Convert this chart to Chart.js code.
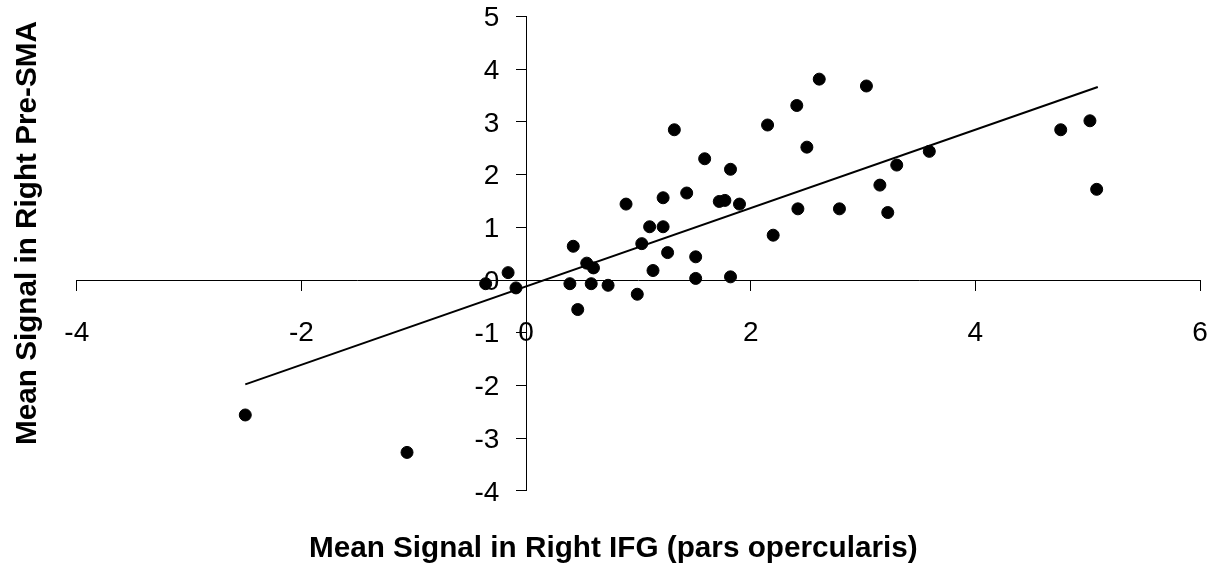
<!DOCTYPE html>
<html>
<head>
<meta charset="utf-8">
<script src="https://cdn.jsdelivr.net/npm/chart.js@4/dist/chart.umd.min.js"></script>
<style>
  html, body { margin: 0; padding: 0; background: #ffffff; }
  #wrap { width: 1229px; height: 573px; }
</style>
</head>
<body>
<div id="wrap"><canvas id="c" width="1229" height="573"></canvas></div>
<script>
// ---- data ----
const xValues = [-2.50, -1.06, -0.36, -0.16, -0.09, 0.39, 0.42, 0.46, 0.54, 0.60,
                 0.58, 0.73, 0.89, 0.99, 1.03, 1.10, 1.13, 1.22, 1.22, 1.26,
                 1.32, 1.43, 1.51, 1.51, 1.59, 1.72, 1.77, 1.82, 1.82, 1.90,
                 2.15, 2.20, 2.41, 2.42, 2.50, 2.61, 2.79, 3.03, 3.15, 3.22,
                 3.30, 3.59, 4.76, 5.02, 5.08];
const yValues = [-2.56, -3.27, -0.07, 0.14, -0.15, -0.07, 0.64, -0.56, 0.32, 0.23,
                 -0.07, -0.10, 1.44, -0.27, 0.69, 1.01, 0.18, 1.01, 1.56, 0.52,
                 2.85, 1.65, 0.44, 0.03, 2.30, 1.49, 1.51, 2.10, 0.06, 1.44,
                 2.94, 0.85, 3.31, 1.35, 2.52, 3.81, 1.35, 3.68, 1.80, 1.28,
                 2.18, 2.44, 2.85, 3.02, 1.72];
const trendX = [-2.50, 5.09];
const trendY = [-1.98, 3.66];
const xTickValues = [-4, -2, 0, 2, 4, 6];
const yTickValues = [-4, -3, -2, -1, 0, 1, 2, 3, 4, 5];
const xTitle = 'Mean Signal in Right IFG (pars opercularis)';
const yTitle = 'Mean Signal in Right Pre-SMA';

const FONT = "'Liberation Sans', Arial, sans-serif";

const points = xValues.map((x, i) => ({ x: x, y: yValues[i] }));
const trend = trendX.map((x, i) => ({ x: x, y: trendY[i] }));

function zeroScalePadding(s) {
  s.paddingTop = 0; s.paddingBottom = 0; s.paddingLeft = 0; s.paddingRight = 0;
}

// Chart.js places labels of an axis positioned at a value right on the axis line;
// move the y labels out by tick length + padding, like a left axis.
const yLabelShift = {
  id: 'yLabelShift',
  beforeDraw(chart) {
    const s = chart.scales.y;
    const off = s.options.grid.tickLength + s.options.ticks.padding;
    s.getLabelItems(chart.chartArea).forEach(it => {
      if (!it._shifted) { it.options.translation[0] -= off; it._shifted = true; }
    });
  }
};

new Chart(document.getElementById('c'), {
  type: 'scatter',
  plugins: [yLabelShift],
  data: {
    datasets: [
      {
        label: 'points',
        data: points,
        backgroundColor: '#000000',
        borderColor: '#000000',
        borderWidth: 1,
        pointRadius: 6,
        pointHoverRadius: 6
      },
      {
        type: 'line',
        label: 'trend',
        data: trend,
        borderColor: '#000000',
        borderWidth: 2,
        pointRadius: 0,
        fill: false,
        tension: 0
      }
    ]
  },
  options: {
    responsive: false,
    animation: false,
    devicePixelRatio: 1,
    layout: {
      autoPadding: false,
      padding: { left: 10, right: 29, top: 16.4, bottom: 0 }
    },
    plugins: {
      legend: { display: false },
      tooltip: { enabled: false },
      title: {
        display: true,
        position: 'bottom',
        text: '  ' + xTitle,
        color: '#000000',
        font: { family: FONT, size: 29.7, weight: 'bold', lineHeight: 1.2 },
        padding: { top: 40.3, bottom: 6.16 }
      },
      subtitle: {
        display: true,
        position: 'left',
        fullSize: false,
        text: '     ' + yTitle,
        color: '#000000',
        font: { family: FONT, size: 29.7, weight: 'bold', lineHeight: 1.2 },
        padding: { top: 0.2, bottom: 30.96 }
      }
    },
    scales: {
      x: {
        type: 'linear',
        position: { y: 0 },
        min: -4,
        max: 6,
        afterBuildTicks: (s) => { s.ticks = xTickValues.map(v => ({ value: v })); },
        afterFit: (s) => { s.height = 0; zeroScalePadding(s); },
        grid: { drawOnChartArea: false, drawTicks: true, tickLength: 10, tickColor: '#000000', tickWidth: 1 },
        border: { display: true, color: '#000000', width: 1 },
        ticks: {
          color: '#000000',
          padding: 26.5,
          maxRotation: 0,
          autoSkip: false,
          font: { family: FONT, size: 28 }
        }
      },
      y: {
        type: 'linear',
        position: { x: 0 },
        min: -4,
        max: 5,
        afterBuildTicks: (s) => { s.ticks = yTickValues.map(v => ({ value: v })); },
        afterFit: (s) => { s.width = 0; zeroScalePadding(s); },
        grid: { drawOnChartArea: false, drawTicks: true, tickLength: 10, tickColor: '#000000', tickWidth: 1 },
        border: { display: true, color: '#000000', width: 1 },
        ticks: {
          color: '#000000',
          padding: 16.7,
          labelOffset: 2,
          autoSkip: false,
          font: { family: FONT, size: 28 }
        }
      }
    }
  }
});
</script>
</body>
</html>
